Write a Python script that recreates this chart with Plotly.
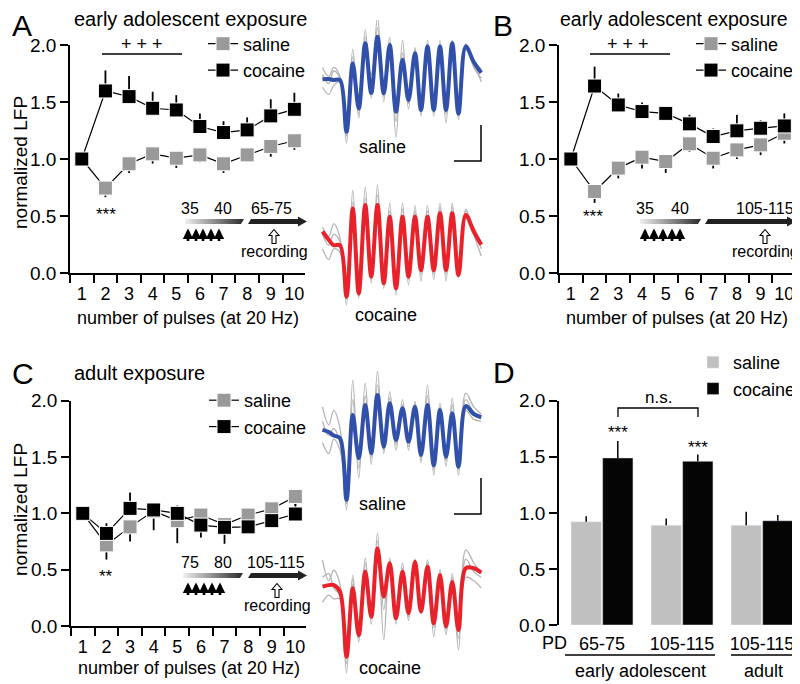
import plotly.graph_objects as go

# window is 800x684; the page body adds an 8 px margin, so the figure is drawn
# 8 px smaller and every layout position below is given in window pixels
W, H = 800, 684
OFF = 8
FW, FH = W - OFF, H - OFF
FONT = "Liberation Sans, Arial, Helvetica, sans-serif"
GRAY_MK = "#9a9a9a"
GRAY_BAR = "#c0c0c0"
TRACE_GRAY = "#b4b4b4"
BLUE = "#3050aa"
RED = "#e8222a"

# -- line panels: normalized LFP per pulse --
PULSES = [1, 2, 3, 4, 5, 6, 7, 8, 9, 10]

A_SAL = [1.0, 0.745, 0.958, 1.045, 1.007, 1.036, 0.958, 1.036, 1.11, 1.16]
A_SAL_ERR = [0, 0.08, 0.08, 0.085, 0.085, 0.065, 0.08, 0.02, 0.09, 0.08]
A_COC = [1.0, 1.597, 1.547, 1.445, 1.43, 1.285, 1.232, 1.255, 1.378, 1.436]
A_COC_ERR = [0, 0.18, 0.18, 0.145, 0.13, 0.115, 0.10, 0.11, 0.146, 0.145]

B_SAL = [1.0, 0.715, 0.92, 1.016, 0.978, 1.133, 1.007, 1.08, 1.124, 1.226]
B_SAL_ERR = [0, 0.10, 0.09, 0.10, 0.10, 0.07, 0.09, 0.08, 0.09, 0.09]
B_COC = [1.0, 1.64, 1.474, 1.416, 1.40, 1.308, 1.197, 1.247, 1.27, 1.29]
B_COC_ERR = [0, 0.17, 0.10, 0.08, 0.03, 0.08, 0.07, 0.14, 0.07, 0.11]

C_SAL = [1.0, 0.72, 0.88, 1.02, 0.935, 0.985, 0.90, 0.985, 1.04, 1.15]
C_SAL_ERR = [0, 0.13, 0.13, 0.17, 0.2, 0.2, 0.17, 0.03, 0.04, 0.08]
C_COC = [1.0, 0.822, 1.044, 1.03, 1.0, 0.896, 0.876, 0.88, 0.935, 0.994]
C_COC_ERR = [0, 0.09, 0.14, 0.0, 0.07, 0.0, 0.05, 0.03, 0.03, 0.09]

# -- bar panel D --
D_X = [1, 2, 3]
D_LABELS = ["65-75", "105-115", "105-115"]
D_SAL = [0.92, 0.89, 0.89]
D_SAL_ERR = [0.05, 0.06, 0.12]
D_COC = [1.49, 1.46, 0.93]
D_COC_ERR = [0.15, 0.06, 0.05]

# -- example LFP traces (ms, mV), extrema of the 20 Hz train --
T_MS = [-70, -45, -25, 0, 26, 51, 75, 101, 125, 150, 175, 199, 224, 250,
        274, 300, 324, 350, 375, 400, 424, 449, 474, 503, 535, 565]

A_SAL_MEAN = [0.02, 0.03, 0.0, 0.0, -1.44, 0.46, -0.79, 1.02, -0.36, 1.20, -0.37, 0.97, -0.88,
              0.56, -0.56, 0.74, -0.83, 0.93, -0.83, 0.93, -0.83, 1.02, -0.93, 0.93, 0.5, 0.2]
A_SAL_SWEEPS = [
    [0.35, 0.1, 0.35, 0.1, -1.75, 0.86, -1.05, 1.39, -0.5, 1.78, -0.6, 1.19, -1.6,
     1.11, -0.8, 0.9, -1.0, 1.1, -1.0, 1.1, -1.2, 1.1, -1.1, 1.0, 0.35, 0.05],
    [-0.2, -0.4, -0.15, -0.05, -1.3, 0.3, -0.7, 0.8, 0.15, 1.0, -0.3, 0.7, -0.9,
     0.4, -0.5, 0.6, -0.7, 0.8, -0.8, 0.85, -0.8, 0.95, -0.85, 0.85, 0.45, -0.05],
    [0.15, -0.1, 0.25, 0.05, -1.55, 0.65, -0.95, 1.2, -0.4, 1.45, -0.45, 1.05, -1.15,
     0.75, -0.65, 0.85, -0.9, 1.0, -0.9, 1.0, -0.95, 1.1, -1.0, 1.0, 0.55, 0.3],
]
A_COC_MEAN = [0.18, -0.05, -0.2, -0.2, -1.63, 0.82, -1.54, 0.92, -1.07, 0.92, -1.26, 0.59, -1.40,
              0.59, -1.07, 0.59, -0.89, 0.59, -0.89, 0.69, -0.89, 0.69, -1.03, 0.64, 0.18, -0.19]
A_COC_SWEEPS = [
    [0.3, 0.05, 0.4, 0.0, -1.86, 1.33, -1.67, 1.42, -1.25, 1.47, -1.4, 0.97, -1.58,
     0.97, -1.3, 0.9, -1.2, 0.9, -1.15, 0.97, -1.2, 0.97, -1.1, 0.8, 0.1, -0.5],
    [-0.3, -0.6, -0.3, -0.4, -1.5, 0.6, -1.3, 0.8, -0.9, 0.8, -1.1, 0.5, -1.2,
     0.5, -0.9, 0.5, -0.8, 0.5, -0.8, 0.6, -0.8, 0.6, -0.9, 0.55, 0.3, -0.3],
    [0.1, -0.2, 0.1, -0.1, -1.7, 1.0, -1.6, 1.1, -1.15, 1.2, -1.3, 0.75, -1.45,
     0.8, -1.15, 0.75, -1.0, 0.75, -1.0, 0.85, -1.0, 0.85, -1.05, 0.75, 0.25, -0.1],
]
C_SAL_MEAN = [0.06, 0.0, -0.1, -0.17, -1.89, 0.47, -0.73, 0.75, -0.59, 1.03, -0.41, 0.80, -0.22,
              0.66, -0.27, 0.70, -0.64, 0.75, -0.92, 0.61, -0.69, 0.52, -0.96, 0.72, 0.5, 0.41]
C_SAL_SWEEPS = [
    [0.7, 0.2, 0.6, 0.1, -2.17, 1.44, -1.28, 1.36, -0.9, 1.68, -0.6, 1.12, -0.5,
     0.9, -0.5, 0.85, -0.85, 1.3, -1.2, 0.8, -0.95, 0.94, -1.2, 1.08, 0.7, 0.5],
    [-0.3, -0.6, -0.2, -0.5, -1.6, 0.1, -0.5, 0.5, -0.3, 0.8, -0.3, 0.6, -0.15,
     0.55, -0.15, 0.55, -0.4, 0.6, -0.7, 0.5, -0.5, 0.4, -0.8, 0.6, 0.35, 0.3],
    [0.3, -0.1, 0.1, -0.3, -2.0, 0.9, -1.0, 1.0, -0.7, 1.3, -0.5, 0.95, -0.35,
     0.75, -0.4, 0.8, -0.75, 1.0, -1.05, 0.7, -0.8, 0.75, -1.05, 0.9, 0.55, 0.45],
]
C_COC_MEAN = [0.04, 0.08, 0.08, -0.1, -1.91, -0.01, -1.31, 0.45, -0.80, 1.10, -0.24, 0.69, -0.84,
              0.45, -0.70, 0.73, -0.66, 0.59, -0.98, 0.36, -1.07, 0.17, -1.17, 0.55, 0.55, 0.43]
C_COC_SWEEPS = [
    [0.78, 0.2, 0.5, 0.1, -2.36, 0.36, -1.5, 0.83, -1.0, 1.53, -1.44, 0.83, -1.0,
     0.7, -0.9, 0.8, -0.5, 0.78, -1.35, 0.4, -1.3, 0.3, -1.72, 1.06, 0.7, 0.4],
    [-0.4, -0.2, -0.3, -0.3, -1.7, 0.1, -1.1, 0.5, -0.5, 0.9, -0.1, 0.5, -0.6,
     0.35, -0.5, 0.5, -0.4, 0.4, -0.6, 0.2, -0.8, 0.1, -0.9, 0.3, 0.2, 0.0],
    [0.3, 0.4, 0.0, -0.2, -2.1, 0.25, -1.4, 0.7, -0.85, 1.3, -0.6, 0.75, -0.9,
     0.55, -0.8, 0.6, -0.6, 0.7, -1.1, 0.5, -1.15, 0.4, -1.4, 0.8, 0.45, 0.3],
]


def dx(x0, x1):
    return [(x0 - OFF) / FW, min((x1 - OFF) / FW, 1.0)]


def dy(top, bottom):
    return [max(1 - (bottom - OFF) / FH, 0.0), 1 - (top - OFF) / FH]


def px(x):
    return (x - OFF) / FW


def py(y):
    return 1 - (y - OFF) / FH


fig = go.Figure()


def pulse_series(xa, ya, leg, sal, sal_err, coc, coc_err):
    zeros = [0] * len(PULSES)
    for name, vals, up, down, col in [
        ("saline", sal, zeros, sal_err, GRAY_MK),
        ("cocaine", coc, coc_err, zeros, "black"),
    ]:
        fig.add_trace(go.Scatter(
            x=PULSES, y=vals, name=name, mode="lines+markers",
            xaxis=xa, yaxis=ya, legend=leg, cliponaxis=False,
            line=dict(color="black", width=1.2),
            marker=dict(symbol="square", size=14, color=col, line=dict(color="white", width=1)),
            error_y=dict(type="data", symmetric=False, array=up, arrayminus=down,
                         color="black", thickness=1.8, width=0),
        ))


pulse_series("x", "y", "legend", A_SAL, A_SAL_ERR, A_COC, A_COC_ERR)
pulse_series("x2", "y2", "legend2", B_SAL, B_SAL_ERR, B_COC, B_COC_ERR)
pulse_series("x3", "y3", "legend3", C_SAL, C_SAL_ERR, C_COC, C_COC_ERR)

fig.add_trace(go.Bar(
    x=D_X, y=D_SAL, name="saline", marker_color=GRAY_BAR, xaxis="x4", yaxis="y4", legend="legend4",
    error_y=dict(type="data", symmetric=False, array=D_SAL_ERR, arrayminus=[0, 0, 0],
                 color="black", thickness=1.5, width=0),
))
fig.add_trace(go.Bar(
    x=D_X, y=D_COC, name="cocaine", marker_color="#050505", xaxis="x4", yaxis="y4", legend="legend4",
    error_y=dict(type="data", symmetric=False, array=D_COC_ERR, arrayminus=[0, 0, 0],
                 color="black", thickness=1.5, width=0),
))

# example traces: grey sweeps then the average on top
for ax, sweeps, mean, col in [
    ("5", A_SAL_SWEEPS, A_SAL_MEAN, BLUE),
    ("6", A_COC_SWEEPS, A_COC_MEAN, RED),
    ("7", C_SAL_SWEEPS, C_SAL_MEAN, BLUE),
    ("8", C_COC_SWEEPS, C_COC_MEAN, RED),
]:
    for sw in sweeps:
        fig.add_trace(go.Scatter(
            x=T_MS, y=sw, mode="lines", xaxis="x" + ax, yaxis="y" + ax, showlegend=False,
            line=dict(color=TRACE_GRAY, width=1.3, shape="spline", smoothing=1.0),
        ))
    fig.add_trace(go.Scatter(
        x=T_MS, y=mean, mode="lines", xaxis="x" + ax, yaxis="y" + ax, showlegend=False,
        line=dict(color=col, width=4, shape="spline", smoothing=1.0),
    ))

# gradient bars for the injection window (pixel overlay axis)
for x0, x1, ytop in [(185, 244, 219), (640, 701, 219), (183, 243, 573)]:
    fig.add_trace(go.Scatter(
        x=[x0, x1, x1 - 3, x0, x0], y=[ytop, ytop, ytop + 5, ytop + 5, ytop],
        mode="lines", fill="toself", line=dict(width=0), showlegend=False,
        xaxis="x9", yaxis="y9", hoverinfo="skip",
        fillgradient=dict(type="horizontal", colorscale=[[0, "#f0f0f0"], [1, "#2a2a2a"]]),
    ))

tick_font = dict(family=FONT, size=18, color="black")
base_x = dict(
    range=[0.5, 10.45], tickvals=PULSES, ticks="outside", ticklen=4, tickcolor="rgba(0,0,0,0)",
    showline=True, linecolor="black", linewidth=1.5, showgrid=False, zeroline=False,
    tickfont=tick_font,
    minor=dict(tickmode="linear", tick0=0.5, dtick=1, ticks="outside", ticklen=8,
               tickwidth=1.5, tickcolor="black", showgrid=False),
)
base_y = dict(
    range=[0, 2.0], tickvals=[0, 0.5, 1.0, 1.5, 2.0], ticktext=["0.0", "0.5", "1.0", "1.5", "2.0"],
    ticks="outside", ticklen=8, tickwidth=1.5, tickcolor="black", showline=True,
    linecolor="black", linewidth=1.5, showgrid=False, zeroline=False,
    tickfont=dict(family=FONT, size=19, color="black"),
)
hidden = dict(visible=False, showgrid=False, zeroline=False, fixedrange=True)

fig.update_layout(
    width=FW, height=FH, margin=dict(l=0, r=0, t=0, b=0, autoexpand=False),
    paper_bgcolor="white", plot_bgcolor="rgba(0,0,0,0)",
    font=dict(family=FONT, size=18, color="black"),
    barmode="group", bargap=0.21, bargroupgap=0.04,
    xaxis=dict(base_x, domain=dx(70, 305), anchor="y"),
    yaxis=dict(base_y, domain=dy(45, 273), anchor="x"),
    xaxis2=dict(base_x, domain=dx(559, 795), anchor="y2"),
    yaxis2=dict(base_y, domain=dy(45, 273), anchor="x2"),
    xaxis3=dict(base_x, domain=dx(71, 306), anchor="y3"),
    yaxis3=dict(base_y, domain=dy(400.7, 626), anchor="x3"),
    xaxis4=dict(domain=dx(559, 800), anchor="y4", range=[0.4625, 3.475], tickvals=D_X,
                ticktext=D_LABELS, ticks="outside", ticklen=2, tickcolor="rgba(0,0,0,0)",
                showline=False, showgrid=False, zeroline=False, tickfont=tick_font),
    yaxis4=dict(base_y, domain=dy(400.7, 625), anchor="x4"),
    xaxis5=dict(hidden, domain=dx(320, 490), range=[-80, 600], anchor="y5"),
    yaxis5=dict(hidden, domain=dy(20, 150), range=[-1.944, 1.667], anchor="x5"),
    xaxis6=dict(hidden, domain=dx(320, 490), range=[-80, 600], anchor="y6"),
    yaxis6=dict(hidden, domain=dy(170, 320), range=[-2.278, 1.889], anchor="x6"),
    xaxis7=dict(hidden, domain=dx(320, 490), range=[-80, 600], anchor="y7"),
    yaxis7=dict(hidden, domain=dy(360, 520), range=[-2.444, 2.0], anchor="x7"),
    xaxis8=dict(hidden, domain=dx(320, 490), range=[-80, 600], anchor="y8"),
    yaxis8=dict(hidden, domain=dy(520, 684), range=[-2.667, 1.889], anchor="x8"),
    # overlay axis in window pixels for labels and decorations
    xaxis9=dict(hidden, domain=[0, 1], range=[OFF, W], anchor="y9"),
    yaxis9=dict(hidden, domain=[0, 1], range=[H, OFF], anchor="x9"),
)

leg = dict(xanchor="left", yanchor="top", bgcolor="rgba(0,0,0,0)", itemwidth=30,
           tracegroupgap=0, font=dict(family=FONT, size=18, color="black"))
fig.update_layout(
    legend=dict(leg, x=px(203), y=py(25.5)),
    legend2=dict(leg, x=px(691), y=py(25.5)),
    legend3=dict(leg, x=px(204), y=py(382)),
    legend4=dict(leg, x=px(693), y=py(344)),
)


def text(x, y, s, size=18, xanchor="center", **kw):
    return dict(x=x, y=y, xref="x9", yref="y9", text=s, showarrow=False, xanchor=xanchor,
                yanchor="middle", font=dict(family=FONT, size=size, color="black"), **kw)


def up_arrow(x, y_head, y_tail):
    return dict(x=x, y=y_head, ax=x, ay=y_tail, xref="x9", yref="y9", axref="x9", ayref="y9",
                text="", showarrow=True, arrowhead=2, arrowsize=0.8, arrowwidth=2.6,
                arrowcolor="black")


anns = [
    text(10, 25, "A", 30, "left"), text(491, 25, "B", 30, "left"),
    text(10, 373, "C", 30, "left"), text(491, 372, "D", 30, "left"),
    text(72, 19, "early adolescent exposure", 20, "left"),
    text(558, 19, "early adolescent exposure", 19.5, "left"),
    text(72, 373, "adult exposure", 20, "left"),
    text(20, 163, "normalized LFP", 19, textangle=-90),
    text(20, 510, "normalized LFP", 19, textangle=-90),
    text(188, 318, "number of pulses (at 20 Hz)", 18),
    text(677, 318, "number of pulses (at 20 Hz)", 18),
    text(189, 668, "number of pulses (at 20 Hz)", 18),
    # significance marks
    text(142, 44, "+ + +", 18), text(628, 44, "+ + +", 18),
    text(106, 214, "***", 17), text(593, 216, "***", 17), text(106, 576, "**", 17),
    text(618, 432, "***", 17), text(698, 447, "***", 17), text(658, 397, "n.s.", 17),
    # trace labels
    text(382, 147, "saline", 18), text(386, 315, "cocaine", 18),
    text(382, 504, "saline", 18), text(390, 668, "cocaine", 18),
    # D group labels
    text(554, 643, "PD", 18), text(640, 671, "early adolescent", 18), text(763, 671, "adult", 18),
]

line_k = dict(xref="x9", yref="y9", line=dict(color="black", width=1.3))
shapes = [
    dict(type="line", x0=102, x1=182, y0=54, y1=54, **line_k),
    dict(type="line", x0=590, x1=670, y0=54, y1=54, **line_k),
    # n.s. bracket
    dict(type="path", path="M 618 417 L 618 408 L 698 408 L 698 417", **line_k),
    # D group underlines
    dict(type="line", x0=565, x1=715, y0=655, y1=655, **line_k),
    dict(type="line", x0=731, x1=795, y0=655, y1=655, **line_k),
    # scale bars
    dict(type="path", path="M 454 161 L 481 161 L 481 125", xref="x9", yref="y9",
         line=dict(color="black", width=1.5)),
    dict(type="path", path="M 454 514 L 481 514 L 481 478", xref="x9", yref="y9",
         line=dict(color="black", width=1.5)),
]

# injection / recording timelines
for nums, arrows_x, y_num, y_bar, rec_x in [
    ([("35", 190), ("40", 223), ("65-75", 271)], [188, 196, 203, 211, 219], 208, 221.5, 274),
    ([("35", 645), ("40", 680), ("105-115", 765)], [645, 654, 663, 672, 680], 208, 221.5, 765),
    ([("75", 190), ("80", 223), ("105-115", 276)], [188, 196, 204, 212, 220], 562, 575.5, 277),
]:
    for s, x in nums:
        anns.append(text(x, y_num, s, 16))
    for x in arrows_x:
        anns.append(up_arrow(x, y_bar + 7, y_bar + 21))
    anns.append(text(rec_x, y_bar + 30, "recording", 16))
    # hollow arrow marking the recording age
    t = y_bar + 8
    shapes.append(dict(
        type="path", xref="x9", yref="y9", fillcolor="white", line=dict(color="black", width=1.1),
        path=(f"M {rec_x} {t} L {rec_x + 5} {t + 6} L {rec_x + 2} {t + 6} L {rec_x + 2} {t + 14} "
              f"L {rec_x - 2} {t + 14} L {rec_x - 2} {t + 6} L {rec_x - 5} {t + 6} Z"),
    ))

fig.update_layout(annotations=anns)

# black timeline arrows
for x0, x1, yc in [(248, 307, 221.5), (705, 796, 221.5), (248, 307, 575.5)]:
    shapes.append(dict(
        type="path", xref="x9", yref="y9", fillcolor="#222222", line=dict(width=0),
        path=(f"M {x0 + 3} {yc - 2.5} L {x1 - 9} {yc - 2.5} L {x1 - 9} {yc - 5} L {x1} {yc} "
              f"L {x1 - 9} {yc + 5} L {x1 - 9} {yc + 2.5} L {x0} {yc + 2.5} Z"),
    ))
fig.update_layout(shapes=shapes)

fig.write_html("out.html")
